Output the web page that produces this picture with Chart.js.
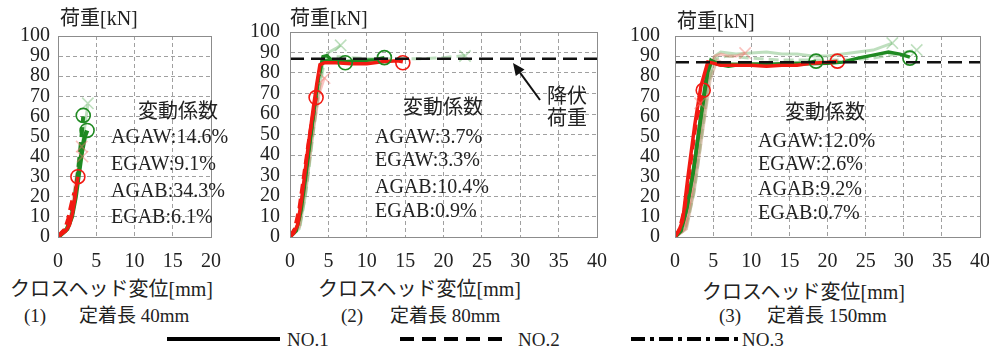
<!DOCTYPE html>
<html><head><meta charset="utf-8">
<script src="https://cdn.jsdelivr.net/npm/chart.js@4.4.1/dist/chart.umd.min.js"></script>
<style>
html,body{margin:0;padding:0;background:#fff;}
#wrap{position:relative;width:989px;height:351px;overflow:hidden;background:#fff;
 font-family:"Liberation Serif","Times New Roman","Noto Sans CJK JP",serif;color:#222;}
canvas{position:absolute;}
.t{position:absolute;white-space:nowrap;line-height:1;font-size:20px;}
.s{font-size:19px;}
</style></head><body>
<div id="wrap">
<canvas id="c1" width="221" height="251" style="left:0px;top:26px;width:221px;height:251px"></canvas>
<canvas id="c2" width="375" height="255" style="left:232px;top:22px;width:375px;height:255px"></canvas>
<canvas id="c3" width="372" height="251" style="left:617px;top:26px;width:372px;height:251px"></canvas>

<div class="t" style="left:60px;top:8px">荷重[kN]</div>
<div class="t" style="left:290px;top:8px">荷重[kN]</div>
<div class="t" style="left:677px;top:11px">荷重[kN]</div>

<div class="t" style="left:10px;top:279px">クロスヘッド変位[mm]</div>
<div class="t" style="left:318px;top:279px">クロスヘッド変位[mm]</div>
<div class="t" style="left:702px;top:282px">クロスヘッド変位[mm]</div>

<div class="t" style="left:138px;top:101px">変動係数</div>
<div class="t" style="left:111px;top:126px">AGAW:14.6%</div>
<div class="t" style="left:111px;top:153px">EGAW:9.1%</div>
<div class="t" style="left:111px;top:180px">AGAB:34.3%</div>
<div class="t" style="left:111px;top:206px">EGAB:6.1%</div>

<div class="t" style="left:403px;top:97px">変動係数</div>
<div class="t" style="left:375px;top:126px">AGAW:3.7%</div>
<div class="t" style="left:375px;top:149px">EGAW:3.3%</div>
<div class="t" style="left:375px;top:176px">AGAB:10.4%</div>
<div class="t" style="left:375px;top:200px">EGAB:0.9%</div>

<div class="t" style="left:785px;top:102px">変動係数</div>
<div class="t" style="left:758px;top:130px">AGAW:12.0%</div>
<div class="t" style="left:758px;top:153px">EGAW:2.6%</div>
<div class="t" style="left:758px;top:178px">AGAB:9.2%</div>
<div class="t" style="left:758px;top:202px">EGAB:0.7%</div>

<div class="t" style="left:547px;top:86px">降伏</div>
<div class="t" style="left:547px;top:108px">荷重</div>

<div class="t s" style="left:24px;top:306px">(1)</div>
<div class="t s" style="left:79px;top:306px">定着長 40mm</div>
<div class="t s" style="left:341px;top:306px">(2)</div>
<div class="t s" style="left:390px;top:306px">定着長 80mm</div>
<div class="t s" style="left:719px;top:306px">(3)</div>
<div class="t s" style="left:767px;top:306px">定着長 150mm</div>

<div class="t s" style="left:287px;top:330px">NO.1</div>
<div class="t s" style="left:518px;top:330px">NO.2</div>
<div class="t s" style="left:742px;top:330px">NO.3</div>

<svg width="989" height="351" style="position:absolute;left:0;top:0;pointer-events:none">
 <line x1="540" y1="100" x2="520" y2="72.7" stroke="#111" stroke-width="2"/>
 <polygon points="513,63 524.5,69.5 515.8,75.9" fill="#111"/>
 <line x1="167" y1="339" x2="280" y2="339" stroke="#000" stroke-width="4"/>
 <line x1="400" y1="339" x2="508" y2="339" stroke="#000" stroke-width="4" stroke-dasharray="14 8"/>
 <line x1="631" y1="339" x2="738" y2="339" stroke="#000" stroke-width="4" stroke-dasharray="14 5 4 5"/>
</svg>
</div>
<script>
// ---- tick labels ----
const yTicks = [0,10,20,30,40,50,60,70,80,90,100];
const xTicks1 = [0,5,10,15,20];
const xTicks2 = [0,5,10,15,20,25,30,35,40];
const yieldLoad = 87;

// ---- (1) 定着長 40mm : [mm, kN] ----
const c1RedSolid   = [[0,0],[0.5,1.5],[1,3],[1.5,6],[1.9,12],[2.2,19],[2.4,25],[2.6,30]];
const c1RedDashed  = [[0,0],[0.4,2],[0.9,4],[1.3,9],[1.7,16],[2.1,22]];
const c1GreenSolid = [[0,0],[0.6,2],[1.2,4],[1.8,10],[2.3,20],[2.7,31],[3.1,42],[3.5,50],[3.8,53]];
const c1GreenDash  = [[0,0],[0.8,3],[1.5,7],[2.1,17],[2.6,32],[3.0,47],[3.3,60]];
const c1LightGreen = [[0,0],[1,3],[2,13],[2.8,35],[3.4,52],[3.9,66]];
const c1LightRed   = [[0,0],[1,3],[1.8,13],[2.3,28],[2.8,38],[3.1,45]];
const c1RedCircles   = [[2.6,30]];
const c1GreenCircles = [[3.3,60.5],[3.8,53]];
const c1RedCrosses   = [[3.1,45],[3.2,40]];
const c1GreenCrosses = [[3.9,66.5]];

// ---- (2) 定着長 80mm ----
const c2RedSolid   = [[0,0],[0.5,2],[1,6],[1.5,18],[2,33],[2.5,48],[3,62],[3.5,75],[3.9,84],[4.5,85],[6,85],[8,84.5],[10,84.5],[12,85.5],[14,86],[14.7,85.5]];
const c2RedDashed  = [[0,0],[0.6,4],[1.2,14],[1.8,30],[2.4,46],[3,60],[3.4,68]];
const c2GreenSolid = [[0,0],[0.8,3],[1.4,12],[2,28],[2.6,46],[3.2,64],[3.8,80],[4.3,88],[4.8,88.5],[5.5,86],[7,85.5],[9,86],[11,86.5],[12.3,87.5]];
const c2GreenDash  = [[0,0],[1,6],[1.7,22],[2.4,42],[3,58],[3.6,75],[4.2,86],[5,86],[6,85.5],[7.2,85]];
const c2LightGreenA = [[0,0],[1.2,4],[2,20],[2.8,45],[3.6,68],[4.3,85],[5,90],[6,92],[6.6,93.5]];
const c2LightGreenB = [[0,0],[1.3,5],[2.2,25],[3,50],[3.8,72],[4.5,86],[6,88],[10,87],[14,87],[17,87],[20,87.5],[22.8,88.5]];
const c2LightRed   = [[0,0],[1.2,5],[2.2,28],[3,52],[3.8,70],[4.5,78]];
const c2RedCircles   = [[3.4,68],[14.7,85]];
const c2GreenCircles = [[7.2,85],[12.3,87.5]];
const c2RedCrosses   = [[4.5,77.5]];
const c2GreenCrosses = [[6.6,93.5],[22.8,88.3]];

// ---- (3) 定着長 150mm ----
const c3RedSolid   = [[0,0],[0.5,3],[1,8],[1.7,30],[2.6,56],[3.4,75],[4.3,87],[5,86.5],[6,85.5],[8,85.5],[10,85.5],[12,85],[14,85.5],[16,85.5],[18,86.5],[20,87],[21.3,87.5]];
const c3RedDashed  = [[0,0],[0.6,4],[1.3,15],[2,35],[2.8,58],[3.7,73]];
const c3GreenSolid = [[0,0],[0.7,3],[1.4,12],[2.4,32],[3.3,58],[4.2,82],[4.7,88],[5.5,86],[7,85],[9,86],[11,86],[13,86],[15,86.5],[17,86.5],[18.5,87.5]];
const c3GreenDash  = [[0,0],[0.8,3],[1.6,15],[2.6,38],[3.5,62],[4.3,82],[4.8,87.5],[6,86],[10,86],[15,86],[20,86.5],[22,87],[24,89],[26,90.5],[28,92],[29.5,91],[30.8,89.5]];
const c3LightGreenA = [[0,0],[1.3,4],[2.3,20],[3.3,48],[4.3,76],[5.2,90],[6,92],[8,91],[10,91.5],[12,92],[14,91],[16,91],[18,90],[20,90],[22,91],[24,92],[26,93],[28.5,96.5]];
const c3LightGreenB = [[0,0],[1.4,4],[2.5,22],[3.5,50],[4.5,78],[5.4,89],[7,90],[10,89],[14,88],[18,88],[22,88],[26,89],[29,91],[31.7,93]];
const c3LightRedA  = [[0,0],[1.3,4],[2.2,22],[3,45],[3.8,68],[4.6,85],[5.2,90],[6,91],[7,90],[8,90],[9.2,91.5]];
const c3LightRedB  = [[0,0],[1.2,4],[2,20],[2.9,45],[3.3,55]];
const c3Tan        = [[0,0],[1.5,4],[2.6,25],[3.6,52],[4.6,78],[5.5,88],[6,87]];
const c3RedCircles   = [[3.7,73],[21.3,87.5]];
const c3GreenCircles = [[18.5,87.5],[30.8,89]];
const c3RedCrosses   = [[9.2,91.5],[3.3,66.5]];
const c3GreenCrosses = [[28.5,96.5],[31.7,93]];

// ---- styles ----
const RED = '#f21a12', GREEN = '#1f8a22';
const LGREEN = 'rgba(110,185,110,0.45)', LRED = 'rgba(245,120,110,0.45)', TAN = 'rgba(195,145,115,0.5)';
const SOLID = [], DASH = [10,5], DASHDOT = [10,4,3,4];
const FONT = "'Liberation Serif', 'Times New Roman', serif";

function ln(data, color, w, dash){
  return {type:'scatter', showLine:true, data, borderColor:color, borderWidth:w, borderDash:dash,
          pointRadius:0, fill:false, tension:0};
}
function mk(data, color, style, r){
  return {type:'scatter', showLine:false, data, pointStyle:style, pointRadius:r, pointBorderWidth:1.6,
          pointBackgroundColor:'rgba(0,0,0,0)', pointBorderColor:color, borderColor:color};
}
function yieldLine(xMax){
  return {type:'scatter', showLine:true, data:[[0,yieldLoad],[xMax,yieldLoad]], borderColor:'#111',
          borderWidth:2.5, borderDash:[14,7], pointRadius:0};
}

const frame = {id:'frame', afterDraw(c){
  const a=c.chartArea, ctx=c.ctx; ctx.save(); ctx.strokeStyle='#8c8c8c'; ctx.lineWidth=1;
  ctx.strokeRect(Math.round(a.left)+0.5, Math.round(a.top)+0.5, Math.round(a.right-a.left), Math.round(a.bottom-a.top));
  ctx.restore();
}};

function make(id, datasets, xTicks, xMax, padR, yPad){
  new Chart(document.getElementById(id), {
    type:'scatter',
    data:{datasets},
    options:{
      responsive:false, animation:false, events:[],
      layout:{padding:{top:10,right:padR,left:0,bottom:0}, autoPadding:false},
      plugins:{legend:{display:false}, tooltip:{enabled:false}},
      scales:{
        x:{type:'linear', min:0, max:xMax,
           afterBuildTicks:s=>{s.ticks=xTicks.map(v=>({value:v}));},
           afterFit:s=>{s.height=40; s.paddingLeft=0; s.paddingRight=0;},
           grid:{color:'#a0a0a0', lineWidth:1, drawTicks:false},
           border:{display:true, color:'#8c8c8c', dash:[4,3]},
           ticks:{font:{family:FONT, size:20}, color:'#222', padding:13, maxRotation:0, autoSkip:false}},
        y:{type:'linear', min:0, max:100,
           afterBuildTicks:s=>{s.ticks=yTicks.map(v=>({value:v}));},
           afterFit:s=>{s.width=58; s.paddingTop=0; s.paddingBottom=0;},
           grid:{color:'#a0a0a0', lineWidth:1, drawTicks:false},
           border:{display:true, color:'#8c8c8c', dash:[4,3]},
           ticks:{font:{family:FONT, size:20}, color:'#222', padding:yPad, autoSkip:false}}
      }
    },
    plugins:[frame]
  });
}

make('c1', [
  mk(c1RedCircles, RED, 'circle', 7),
  mk(c1GreenCircles, GREEN, 'circle', 7),
  mk(c1RedCrosses, LRED, 'crossRot', 8),
  mk(c1GreenCrosses, LGREEN, 'crossRot', 8),
  ln(c1RedDashed, RED, 3.5, DASH),
  ln(c1RedSolid, RED, 3.5, SOLID),
  ln(c1GreenSolid, GREEN, 4.5, SOLID),
  ln(c1GreenDash, GREEN, 4, DASH),
  ln(c1LightRed, LRED, 3, SOLID),
  ln(c1LightGreen, LGREEN, 3, SOLID)
], xTicks1, 20, 10, 8);

make('c2', [
  yieldLine(40),
  mk(c2RedCircles, RED, 'circle', 7),
  mk(c2GreenCircles, GREEN, 'circle', 7),
  mk(c2RedCrosses, LRED, 'crossRot', 8),
  mk(c2GreenCrosses, LGREEN, 'crossRot', 8),
  ln(c2RedSolid, RED, 3.5, SOLID),
  ln(c2RedDashed, RED, 3.5, DASH),
  ln(c2GreenSolid, GREEN, 3.5, SOLID),
  ln(c2GreenDash, GREEN, 3.5, DASH),
  ln(c2LightRed, LRED, 3, SOLID),
  ln(c2LightGreenA, LGREEN, 3, SOLID),
  ln(c2LightGreenB, LGREEN, 3, DASH)
], xTicks2, 40, 10, 10);

make('c3', [
  yieldLine(40),
  mk(c3RedCircles, RED, 'circle', 7),
  mk(c3GreenCircles, GREEN, 'circle', 7),
  mk(c3RedCrosses, LRED, 'crossRot', 8),
  mk(c3GreenCrosses, LGREEN, 'crossRot', 8),
  ln(c3RedSolid, RED, 3.5, SOLID),
  ln(c3RedDashed, RED, 3.5, DASH),
  ln(c3GreenSolid, GREEN, 3.5, SOLID),
  ln(c3GreenDash, GREEN, 3.5, SOLID),
  ln(c3LightRedA, LRED, 3, SOLID),
  ln(c3LightRedB, LRED, 3, DASH),
  ln(c3Tan, TAN, 3, SOLID),
  ln(c3LightGreenA, LGREEN, 3, SOLID),
  ln(c3LightGreenB, LGREEN, 3, DASH)
], xTicks2, 40, 9, 15);
</script>
</body></html>
